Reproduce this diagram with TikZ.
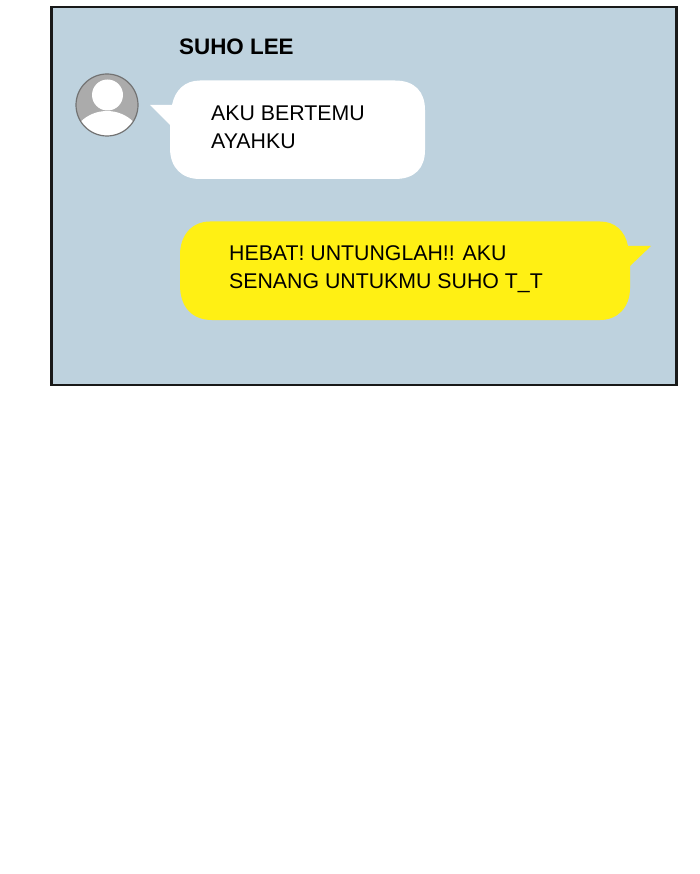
\documentclass[tikz,border=0pt]{standalone}
\usepackage{fontspec}
\setmainfont{Liberation Sans}
\definecolor{panelblue}{HTML}{BED2DE}
\definecolor{chatyellow}{HTML}{FFF014}
\definecolor{avatargrey}{HTML}{ABABAB}
\tikzset{
  chattext/.style={inner sep=0pt,anchor=north west,align=left,text=black,font=\fontsize{21.3}{28}\selectfont},
  nametext/.style={inner sep=0pt,anchor=west,text=black,font=\fontsize{22.4}{28}\selectfont\bfseries},
}
\begin{document}
\begin{tikzpicture}[x=1pt,y=-1pt]
\useasboundingbox (0,0) rectangle (700,874);
\fill[white] (0,0) rectangle (700,874);
% panel
\draw[fill=panelblue,draw=black!90,line width=2.2pt] (51.5,7) rectangle (676.5,385);
% avatar
\begin{scope}
  \path[clip] (107,105) circle (31);
  \fill[avatargrey] (107,105) circle (31);
  \fill[white] (107.5,95) circle (15.5);
  \fill[white] (107,147) ellipse (37 and 36);
\end{scope}
\node[draw=black!55,line width=1.2pt,circle,minimum size=62pt,inner sep=0pt] (avatar) at (107,105) {};
% white bubble
\fill[white] (172,105) .. controls (175,90) and (185,80.5) .. (200,80.5)
  -- (395,80.5) .. controls (415,80.5) and (425,92) .. (425,110)
  -- (425,150) .. controls (425,168) and (415,179) .. (395,179)
  -- (200,179) .. controls (182,179) and (170,168) .. (170,148)
  -- (170,125) -- (150,105) -- cycle;
% yellow bubble
\fill[chatyellow] (628,246) .. controls (625,231) and (615,221.5) .. (600,221.5)
  -- (210,221.5) .. controls (192,221.5) and (180,235) .. (180,255)
  -- (180,285) .. controls (180,307) and (192,320) .. (212,320)
  -- (600,320) .. controls (618,320) and (630,307) .. (630,288)
  -- (630,266) -- (651,246) -- cycle;
% texts
\node[nametext] (name) at (179,46.5) {SUHO LEE};
\node[chattext] (msga) at (211,106) {AKU BERTEMU\\AYAHKU};
\node[chattext] (msgb) at (229,245) {HEBAT! UNTUNGLAH!! AKU\\SENANG UNTUKMU SUHO T\_T};
\end{tikzpicture}
\end{document}
